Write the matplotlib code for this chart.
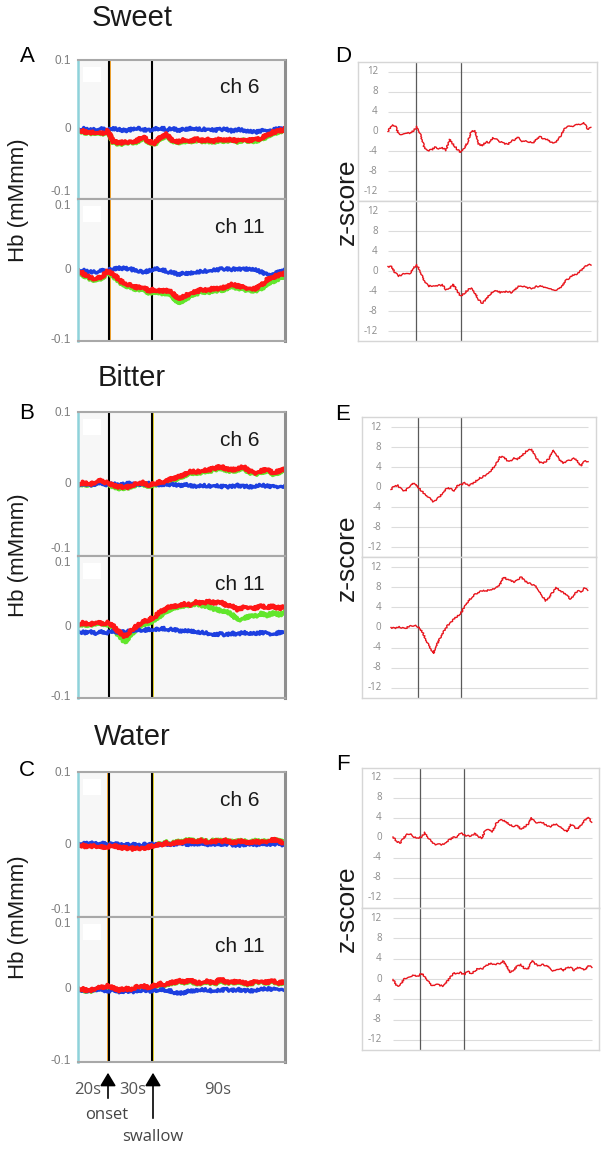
import numpy as np
import matplotlib
matplotlib.use("Agg")
import matplotlib.pyplot as plt
from matplotlib.patches import FancyArrowPatch, Rectangle

W, H = 605, 1149

# time axes (s)
T_HB = np.arange(0, 141, 4)
T_Z = np.arange(0, 140.1, 2.5)
ONSET, SWALLOW = 21, 50
ONSET_Z, SWALLOW_Z = 19, 50
Z_TICKS = [12, 8, 4, 0, -4, -8, -12]

# ---- Hb traces (mM mm), sampled every 4 s ----
SWEET_CH6_BLUE = [0.000, 0.001, -0.001, 0.000, 0.001, -0.001, 0.001, 0.000, -0.002, 0.000, 0.002, 0.000,
                  -0.001, 0.001, 0.002, 0.000, 0.001, -0.001, 0.000, 0.002, 0.001, 0.000, 0.001, -0.001,
                  0.000, 0.001, -0.002, 0.000, -0.001, -0.003, -0.004, -0.002, -0.001, 0.000, 0.001, 0.000]
SWEET_CH6_GREEN = [-0.001, -0.004, -0.006, -0.005, -0.007, -0.003, -0.019, -0.022, -0.019, -0.020, -0.018, -0.012,
                   -0.019, -0.021, -0.013, -0.009, -0.017, -0.019, -0.017, -0.018, -0.016, -0.017, -0.017, -0.018,
                   -0.016, -0.017, -0.016, -0.018, -0.016, -0.017, -0.017, -0.015, -0.010, -0.006, -0.003, -0.001]
SWEET_CH6_RED = [0.000, -0.003, -0.005, -0.004, -0.006, -0.002, -0.018, -0.020, -0.018, -0.019, -0.016, -0.010,
                 -0.018, -0.020, -0.011, -0.007, -0.016, -0.018, -0.015, -0.017, -0.014, -0.016, -0.015, -0.017,
                 -0.014, -0.016, -0.015, -0.017, -0.014, -0.016, -0.015, -0.013, -0.008, -0.004, -0.002, 0.000]

SWEET_CH11_BLUE = [0.000, -0.001, -0.003, -0.003, -0.001, 0.000, 0.001, 0.003, 0.002, 0.001, -0.001, -0.003,
                   -0.001, 0.002, 0.001, -0.002, -0.004, -0.006, -0.005, -0.004, -0.003, -0.002, -0.001, 0.000,
                   0.001, 0.002, 0.001, 0.002, 0.001, 0.002, 0.000, -0.003, -0.007, -0.005, -0.003, -0.001]
SWEET_CH11_GREEN = [-0.002, -0.008, -0.013, -0.015, -0.012, -0.004, -0.009, -0.017, -0.023, -0.025, -0.028, -0.027,
                    -0.033, -0.031, -0.034, -0.033, -0.038, -0.047, -0.043, -0.037, -0.034, -0.031, -0.032, -0.029,
                    -0.030, -0.027, -0.024, -0.026, -0.028, -0.029, -0.030, -0.027, -0.020, -0.016, -0.012, -0.009]
SWEET_CH11_RED = [0.000, -0.006, -0.011, -0.013, -0.010, -0.002, -0.006, -0.015, -0.020, -0.022, -0.025, -0.024,
                  -0.030, -0.028, -0.031, -0.029, -0.033, -0.041, -0.038, -0.033, -0.031, -0.028, -0.029, -0.026,
                  -0.027, -0.024, -0.021, -0.023, -0.025, -0.026, -0.027, -0.022, -0.014, -0.010, -0.007, -0.005]

BITTER_CH6_BLUE = [-0.001, 0.001, -0.002, 0.000, 0.001, -0.001, 0.000, -0.002, 0.000, 0.001, -0.001, 0.000,
                   0.001, 0.000, -0.001, 0.000, -0.001, -0.002, -0.001, -0.002, -0.003, -0.002, -0.003, -0.002,
                   -0.003, -0.004, -0.003, -0.002, -0.003, -0.004, -0.003, -0.002, -0.003, -0.004, -0.003, -0.003]
BITTER_CH6_GREEN = [-0.001, 0.000, -0.002, 0.001, 0.003, -0.001, -0.004, -0.006, -0.006, -0.004, -0.001, 0.000,
                    -0.003, -0.001, 0.001, 0.002, 0.006, 0.008, 0.012, 0.016, 0.015, 0.017, 0.018, 0.020,
                    0.023, 0.020, 0.018, 0.020, 0.022, 0.016, 0.014, 0.017, 0.018, 0.014, 0.016, 0.021]
BITTER_CH6_RED = [0.000, 0.002, -0.001, 0.003, 0.005, 0.001, -0.002, -0.004, -0.005, -0.003, 0.001, 0.002,
                  -0.002, 0.001, 0.003, 0.004, 0.008, 0.010, 0.014, 0.018, 0.017, 0.019, 0.020, 0.022,
                  0.025, 0.022, 0.020, 0.022, 0.024, 0.018, 0.016, 0.019, 0.020, 0.016, 0.018, 0.023]

BITTER_CH11_BLUE = [-0.006, -0.008, -0.007, -0.009, -0.007, -0.008, -0.006, -0.008, -0.007, -0.006, -0.004, -0.005,
                    -0.003, -0.004, -0.002, -0.003, -0.004, -0.005, -0.006, -0.005, -0.007, -0.008, -0.009, -0.011,
                    -0.010, -0.011, -0.009, -0.010, -0.008, -0.009, -0.010, -0.008, -0.009, -0.010, -0.008, -0.009]
BITTER_CH11_GREEN = [0.003, 0.004, 0.002, 0.005, 0.004, 0.004, -0.002, -0.013, -0.022, -0.010, -0.002, 0.004,
                     0.006, 0.010, 0.017, 0.023, 0.027, 0.029, 0.031, 0.031, 0.034, 0.031, 0.030, 0.026,
                     0.024, 0.022, 0.018, 0.010, 0.013, 0.015, 0.016, 0.019, 0.017, 0.020, 0.018, 0.020]
BITTER_CH11_RED = [0.004, 0.006, 0.003, 0.007, 0.005, 0.006, 0.001, -0.008, -0.014, -0.005, 0.002, 0.008,
                   0.010, 0.015, 0.022, 0.027, 0.030, 0.031, 0.033, 0.032, 0.036, 0.034, 0.037, 0.035,
                   0.036, 0.032, 0.030, 0.025, 0.028, 0.029, 0.027, 0.030, 0.028, 0.030, 0.027, 0.029]

WATER_CH6_BLUE = [0.002, 0.001, 0.002, 0.001, 0.002, 0.000, 0.001, 0.000, -0.001, 0.000, -0.001, 0.000,
                  0.001, 0.000, 0.000, 0.001, 0.000, 0.002, 0.001, 0.000, 0.001, 0.002, 0.000, 0.001,
                  0.000, 0.001, 0.000, -0.001, 0.000, 0.001, 0.000, 0.001, 0.000, 0.001, 0.000, 0.000]
WATER_CH6_GREEN = [0.001, -0.001, -0.002, -0.001, -0.003, -0.002, -0.001, -0.003, -0.004, -0.005, -0.004, -0.005,
                   -0.002, 0.000, 0.001, 0.003, 0.002, 0.004, 0.005, 0.007, 0.005, 0.006, 0.004, 0.006,
                   0.005, 0.006, 0.004, 0.005, 0.005, 0.003, 0.005, 0.004, 0.005, 0.007, 0.005, 0.003]
WATER_CH6_RED = [0.000, -0.002, -0.003, -0.002, -0.004, -0.003, -0.002, -0.004, -0.005, -0.006, -0.005, -0.006,
                 -0.003, -0.001, 0.000, 0.002, 0.001, 0.003, 0.004, 0.006, 0.004, 0.006, 0.003, 0.005,
                 0.004, 0.006, 0.003, 0.004, 0.005, 0.002, 0.004, 0.003, 0.005, 0.007, 0.004, 0.002]

WATER_CH11_BLUE = [0.000, -0.001, -0.002, 0.000, -0.001, -0.002, -0.001, -0.003, -0.002, -0.003, -0.002, -0.001,
                   -0.002, -0.001, 0.000, -0.001, -0.003, -0.006, -0.004, -0.002, -0.001, 0.000, -0.001, -0.002,
                   -0.001, 0.000, -0.001, 0.000, -0.001, -0.002, -0.001, 0.000, 0.001, 0.000, 0.001, 0.000]
WATER_CH11_GREEN = [0.001, -0.001, -0.003, 0.001, 0.002, 0.004, 0.001, -0.002, 0.000, -0.001, 0.003, 0.004,
                    0.002, 0.005, 0.007, 0.006, 0.009, 0.011, 0.010, 0.012, 0.008, 0.009, 0.011, 0.007,
                    0.013, 0.010, 0.009, 0.011, 0.008, 0.007, 0.010, 0.011, 0.009, 0.011, 0.008, 0.010]
WATER_CH11_RED = [0.002, 0.000, -0.002, 0.002, 0.003, 0.005, 0.002, -0.001, 0.001, 0.000, 0.004, 0.005,
                  0.003, 0.006, 0.008, 0.007, 0.010, 0.012, 0.011, 0.014, 0.009, 0.010, 0.012, 0.008,
                  0.015, 0.011, 0.010, 0.012, 0.009, 0.008, 0.011, 0.012, 0.010, 0.012, 0.009, 0.011]

# ---- z-scores, sampled every 2.5 s ----
SWEET_Z6 = [0.0, 1.2, 1.2, -0.6, -0.5, -0.2, -0.3, 0.1, 1.0, -0.6, -3.2, -3.9, -3.7, -3.2, -3.4, -3.3,
            -3.8, -1.6, -2.6, -3.5, -4.2, -3.3, -2.2, 0.0, 0.1, -2.5, -2.9, -2.1, -2.2, -1.3, -1.6, -2.1,
            -2.4, -2.6, -2.0, -1.6, -1.1, -2.0, -1.8, -2.1, -2.3, -1.5, -1.1, -1.5, -1.7, -2.1, -2.3, -1.7,
            -0.3, 0.8, 1.0, 1.1, 1.3, 1.5, 1.8, 0.5, 0.7]
SWEET_Z11 = [0.9, 0.8, -0.4, -1.0, -0.7, -0.4, -0.5, 0.6, 1.2, -0.2, -1.9, -3.0, -3.0, -3.0, -2.9, -2.8,
             -3.7, -3.5, -2.7, -3.9, -5.0, -4.5, -3.8, -3.4, -4.4, -5.8, -6.5, -5.7, -4.8, -4.1, -3.9, -4.3,
             -4.2, -4.1, -4.3, -3.8, -3.1, -3.0, -3.3, -3.4, -3.5, -3.1, -3.0, -3.2, -3.3, -3.6, -3.8, -3.6,
             -3.0, -2.0, -1.4, -0.9, -0.6, 0.0, 0.5, 1.3, 1.3]
BITTER_Z6 = [-0.5, 0.2, 0.3, -0.5, -0.8, -0.1, 0.8, 0.6, -0.3, -1.0, -1.6, -2.2, -2.9, -2.5, -1.8, -1.0,
             -0.2, -0.4, -0.7, 0.3, 0.5, 0.8, 0.3, 0.6, 1.1, 1.7, 2.0, 2.4, 3.0, 3.8, 4.7, 6.0,
             6.0, 5.3, 5.2, 5.8, 5.6, 6.1, 6.8, 7.5, 7.4, 6.2, 5.0, 4.8, 5.0, 5.8, 7.4, 6.6,
             5.4, 4.8, 5.1, 5.4, 5.7, 5.2, 4.2, 5.1, 5.2]
BITTER_Z11 = [0.0, -0.2, 0.1, 0.0, -0.3, 0.2, 0.3, 0.5, 0.0, -1.0, -2.5, -3.8, -5.2, -3.5, -2.0, -0.8,
              0.3, 1.0, 1.8, 2.3, 3.0, 4.3, 5.3, 6.0, 6.6, 7.0, 7.3, 7.2, 7.5, 7.6, 8.0, 8.6,
              10.0, 9.6, 9.3, 9.0, 9.5, 10.0, 9.3, 8.8, 8.6, 8.3, 7.4, 6.3, 5.3, 6.0, 7.0, 7.9,
              7.4, 6.9, 6.3, 5.7, 6.4, 7.3, 7.0, 7.8, 7.5]
WATER_Z6 = [0.2, -0.7, -1.0, 0.0, 0.7, 0.9, 0.2, 0.0, 0.2, 1.1, 0.0, -0.8, -1.3, -1.3, -1.3, -0.9,
            -0.3, 0.1, 0.3, 1.0, 0.6, 0.4, 0.4, 0.9, 0.3, 0.0, 1.6, 1.7, 1.3, 2.8, 3.6, 3.5,
            3.1, 2.6, 2.3, 2.6, 1.7, 2.2, 2.8, 4.0, 3.2, 3.0, 3.1, 2.6, 2.2, 2.6, 2.8, 2.3,
            1.8, 1.3, 2.7, 2.2, 1.8, 2.7, 3.6, 4.0, 3.2]
WATER_Z11 = [-0.1, -1.3, -1.3, -0.1, 0.3, 0.6, 0.8, 0.5, 1.1, 0.5, -0.5, -1.3, -1.1, -1.2, -1.4, -0.7,
             0.2, 1.2, 1.0, 1.3, 0.8, 1.6, 1.0, 1.6, 2.1, 1.9, 2.6, 3.0, 3.0, 2.9, 3.0, 3.5,
             2.5, 1.3, 1.8, 2.6, 2.8, 2.1, 1.9, 3.6, 3.0, 2.6, 2.8, 2.7, 2.3, 1.6, 1.9, 2.1,
             1.7, 2.3, 2.2, 1.7, 2.2, 2.2, 1.8, 2.5, 2.4]

fig = plt.figure(figsize=(W / 100, H / 100), dpi=100)
SANS = "Liberation Sans"
SOFT = "Open Sans"


def px_axes(x0, y0, x1, y1):
    return fig.add_axes([x0 / W, 1 - y1 / H, (x1 - x0) / W, (y1 - y0) / H])


def ftext(x, y, s, **kw):
    fig.text(x / W, 1 - y / H, s, ha="center", va="center", **kw)


def hb_sub(box, traces, ch, top, edges):
    ax = px_axes(*box)
    ax.set_facecolor("#f7f7f7")
    ax.add_patch(Rectangle((0.025, 0.84), 0.085, 0.11, transform=ax.transAxes,
                           facecolor="white", lw=0))
    for xv, (c, off) in zip((ONSET, SWALLOW), edges):
        if c:
            ax.axvline(xv + off, color=c, lw=1.3)
        ax.axvline(xv, color="black", lw=1.5)
    blue, green, red = traces
    # fuzzy look of the raw NIRS traces
    for ys, c, lw in ((green, "#62e62c", 2.8), (blue, "#1d3fe0", 2.4), (red, "#ff1616", 2.8)):
        ln, = ax.plot(T_HB, ys, color=c, lw=lw)
        ln.set_sketch_params(1.4, 2.5, 2.0)
    ax.set_xlim(0, 140)
    ax.set_ylim(-0.102, 0.102)
    ax.set_xticks([]); ax.set_yticks([])
    for s in ("top", "bottom"):
        ax.spines[s].set_color("#a8a8a8"); ax.spines[s].set_linewidth(1.5)
    ax.spines["right"].set_color("#8f8f8f"); ax.spines["right"].set_linewidth(2.2)
    ax.spines["left"].set_color("#8fd2da"); ax.spines["left"].set_linewidth(1.8)
    tr = ax.get_yaxis_transform()
    vas = ("center", "center", "bottom") if top else ("top", "center", "center")
    for v, lab, va in zip((0.1, 0, -0.1), ("0.1", "0", "-0.1"), vas):
        ax.text(-0.035, v, lab, transform=tr, ha="right", va=va, fontsize=8.5,
                color="#7d7d7d", family=SANS)
    ax.text(0.78, 0.8, ch, transform=ax.transAxes, ha="center", va="center",
            fontsize=15, color="#1a1a1a", family=SANS)


def z_sub(box, z, grid):
    ax = px_axes(*box)
    L, R = box[0], box[2]
    g0, g1 = grid
    s = (g1 - g0) / 140
    ax.set_xlim(-(g0 - L) / s, 140 + (R - g1) / s)
    ax.set_ylim(-14, 14)
    ax.hlines(Z_TICKS, 0, 140, color="#dcdcdc", lw=0.8)
    ax.axvline(ONSET_Z, color="#5a5a5a", lw=0.9)
    ax.axvline(SWALLOW_Z, color="#5a5a5a", lw=0.9)
    ln, = ax.plot(T_Z, z, color="#e8141c", lw=1.0)
    ln.set_sketch_params(0.7, 1.5, 2.0)
    ax.set_xticks([]); ax.set_yticks([])
    for sp in ax.spines.values():
        sp.set_color("#d6d6d6"); sp.set_linewidth(1.0)
    tr = ax.get_yaxis_transform()
    for v in Z_TICKS:
        ax.text(0.083, v, str(v), transform=tr, ha="right", va="center",
                fontsize=7, color="#8a8a8a", family=SOFT)


left = [
    ("A", "Sweet", 18, 57, (60, 199, 341),
     [(SWEET_CH6_BLUE, SWEET_CH6_GREEN, SWEET_CH6_RED), (SWEET_CH11_BLUE, SWEET_CH11_GREEN, SWEET_CH11_RED)],
     [("#f5a020", 0.7), (None, 0)]),
    ("B", "Bitter", 378, 413, (412, 556, 698),
     [(BITTER_CH6_BLUE, BITTER_CH6_GREEN, BITTER_CH6_RED), (BITTER_CH11_BLUE, BITTER_CH11_GREEN, BITTER_CH11_RED)],
     [(None, 0), ("#e6d21a", 0.7)]),
    ("C", "Water", 737, 770, (772, 917, 1062),
     [(WATER_CH6_BLUE, WATER_CH6_GREEN, WATER_CH6_RED), (WATER_CH11_BLUE, WATER_CH11_GREEN, WATER_CH11_RED)],
     [("#f5a020", -0.7), ("#e6d21a", 0.7)]),
]
for letter, title, ty, ly, (y0, ym, y1), traces, edges in left:
    ftext(132, ty, title, fontsize=21, color="#1a1a1a", family=SANS)
    ftext(27, ly, letter, fontsize=16, color="black", family=SANS)
    hb_sub((78, y0, 285, ym), traces[0], "ch 6", True, edges)
    hb_sub((78, ym, 285, y1), traces[1], "ch 11", False, edges)
    ftext(19, (y0 + y1) / 2, "Hb (mMmm)", fontsize=16, rotation=90, color="#1a1a1a", family=SANS)

right = [
    ("D", 57, (62, 201, 341), (358, 597), (388, 591), SWEET_Z6, SWEET_Z11),
    ("E", 415, (417, 557, 698), (362, 596), (391, 588), BITTER_Z6, BITTER_Z11),
    ("F", 765, (768, 908, 1050), (362, 599), (393, 592), WATER_Z6, WATER_Z11),
]
for letter, ly, (y0, ym, y1), (xl, xr), grid, z6, z11 in right:
    ftext(343, ly, letter, fontsize=16, color="black", family=SANS)
    z_sub((xl, y0, xr, ym), z6, grid)
    z_sub((xl, ym, xr, y1), z11, grid)
    ftext(347, (y0 + y1) / 2, "z-score", fontsize=19, rotation=90, color="#1a1a1a", family=SANS)

# time annotations under panel C
for x, s in ((88, "20s"), (133, "30s"), (218, "90s")):
    ftext(x, 1090, s, fontsize=12, color="#555555", family=SOFT)
for x, tail in ((108, 1101), (153, 1121)):
    arr = FancyArrowPatch((x / W, 1 - tail / H), (x / W, 1 - 1070 / H), transform=fig.transFigure,
                          arrowstyle="-|>,head_length=5,head_width=3", mutation_scale=1.6,
                          color="black", lw=1.2)
    fig.add_artist(arr)
ftext(107, 1115, "onset", fontsize=12, color="#444444", family=SOFT)
ftext(153, 1137, "swallow", fontsize=12, color="#444444", family=SOFT)

fig.savefig("out.png", dpi=100, facecolor="white")
